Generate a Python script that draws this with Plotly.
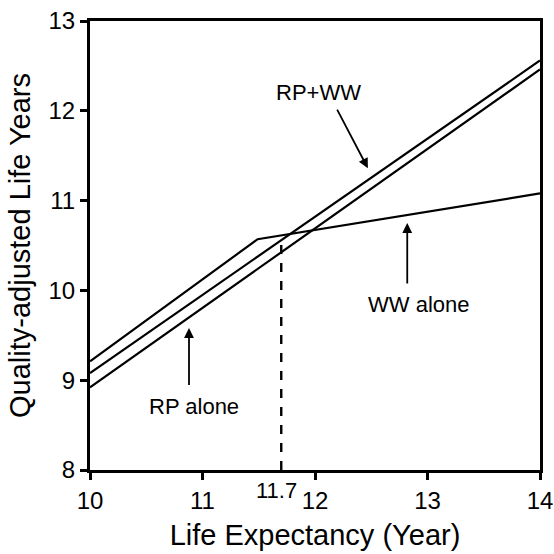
import plotly.graph_objects as go

# Data
life_exp = [10, 14]
rp_alone = [8.92, 12.46]
rp_ww = [9.08, 12.56]
ww_life_exp = [10, 11.49, 14]
ww_alone = [9.21, 10.57, 11.08]
threshold_x = [11.7, 11.7]
threshold_y = [8, 10.55]
x_ticks = [10, 11, 12, 13, 14]
y_ticks = [8, 9, 10, 11, 12, 13]

FONT = "Liberation Sans, Arial, sans-serif"
line_style = dict(color="black", width=2.2)

fig = go.Figure()
fig.add_trace(go.Scatter(x=life_exp, y=rp_alone, mode="lines", line=line_style, name="RP alone"))
fig.add_trace(go.Scatter(x=life_exp, y=rp_ww, mode="lines", line=line_style, name="RP+WW"))
fig.add_trace(go.Scatter(x=ww_life_exp, y=ww_alone, mode="lines", line=line_style, name="WW alone"))
fig.add_trace(go.Scatter(x=threshold_x, y=threshold_y, mode="lines",
                         line=dict(color="black", width=2.4, dash="dash"), name="threshold"))

def arrow(x, y, ax, ay):
    fig.add_annotation(x=x, y=y, ax=ax, ay=ay, xref="x", yref="y", axref="x", ayref="y",
                       text="", showarrow=True, arrowhead=2, arrowsize=1.1,
                       arrowwidth=1.8, arrowcolor="black")

def label(x, y, text, size=22):
    fig.add_annotation(x=x, y=y, xref="x", yref="y", text=text, showarrow=False,
                       font=dict(family=FONT, size=size, color="black"))

label(12.03, 12.2, "RP+WW")
arrow(12.47, 11.36, 12.19, 12.03)
label(12.92, 9.84, "WW alone")
arrow(12.82, 10.75, 12.82, 10.06)
label(10.92, 8.71, "RP alone")
arrow(10.88, 9.58, 10.88, 8.93)
fig.add_annotation(x=11.66, y=8, xref="x", yref="y", text="11.7", showarrow=False,
                   yanchor="top", yshift=-6, font=dict(family=FONT, size=22, color="black"))

axis_common = dict(showgrid=False, zeroline=False, showline=True, linecolor="black",
                   linewidth=3, mirror=True, ticks="outside", ticklen=7, tickwidth=2.5,
                   tickcolor="black", ticklabeloverflow="allow",
                   tickfont=dict(family=FONT, size=24, color="black"))

fig.update_xaxes(range=[10, 14], tickvals=x_ticks, ticktext=[str(v) for v in x_ticks],
                 title=dict(text="Life Expectancy (Year)", font=dict(family=FONT, size=29, color="black"),
                            standoff=12),
                 **axis_common)
fig.update_yaxes(range=[8, 13], tickvals=y_ticks, ticktext=[str(v) for v in y_ticks],
                 title=dict(text="Quality-adjusted Life Years", font=dict(family=FONT, size=29, color="black"),
                            standoff=10),
                 **axis_common)

fig.update_layout(width=554, height=554, margin=dict(l=90, r=14, t=21, b=84, autoexpand=False),
                  plot_bgcolor="white", paper_bgcolor="white", showlegend=False)

# remove the page's default body margin so the 554px figure fills the window exactly
fig.write_html("out.html", config={"displayModeBar": False},
               post_script="document.body.style.margin='0';document.body.style.overflow='hidden';")
